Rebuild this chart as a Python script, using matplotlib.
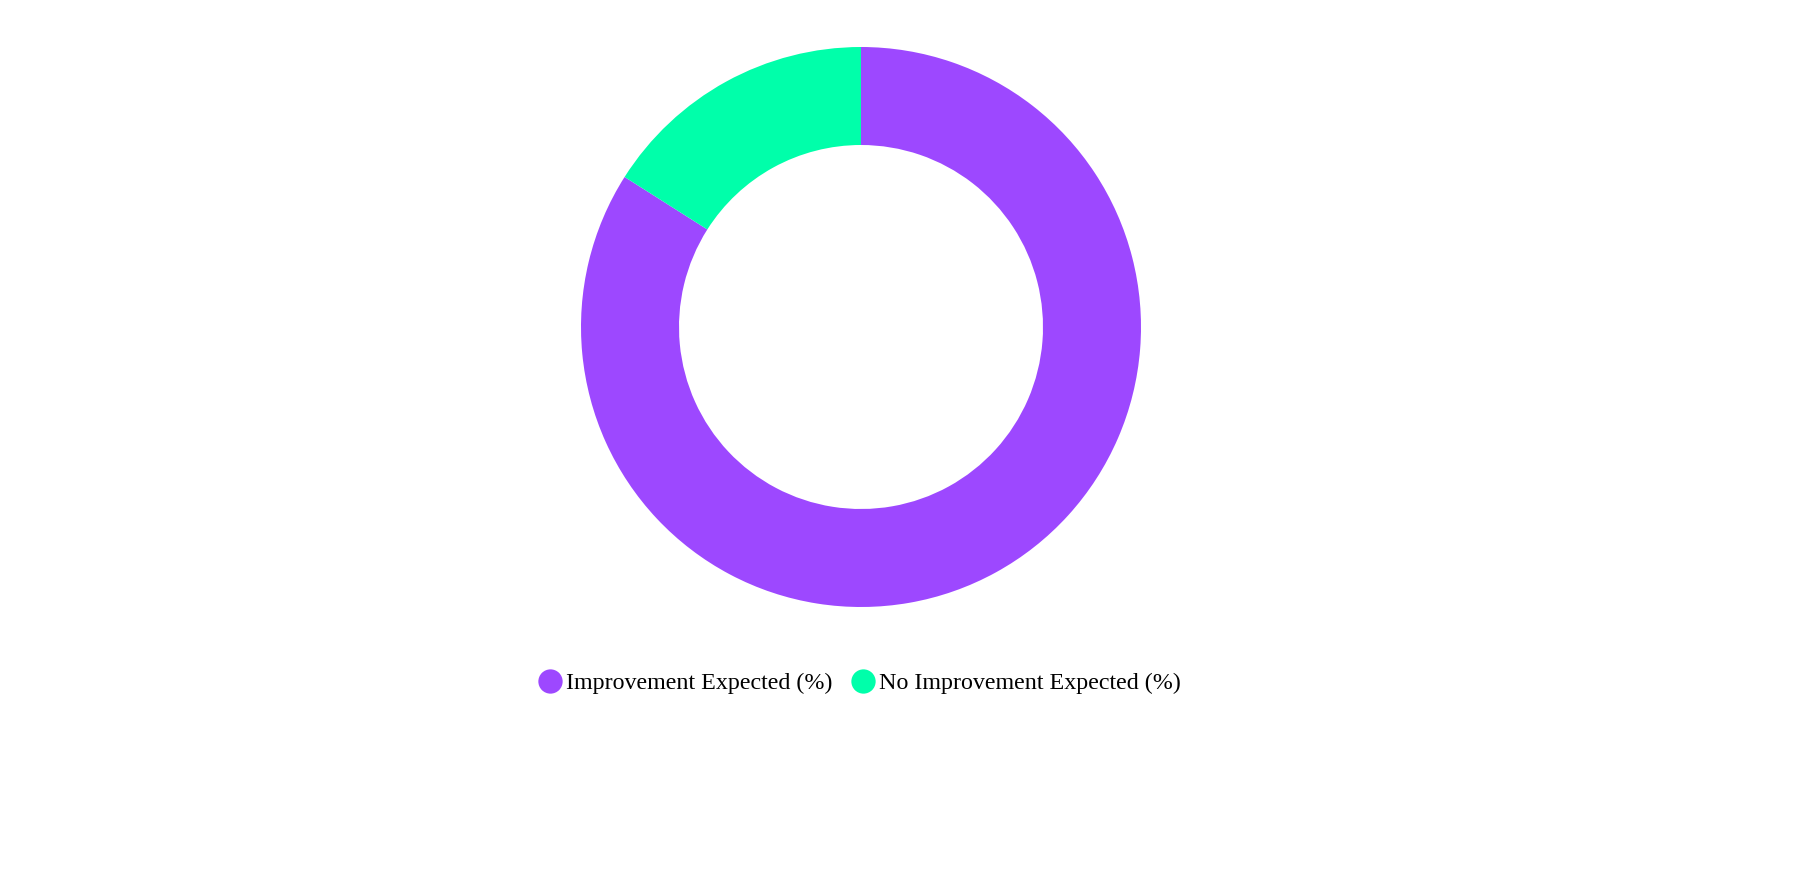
import matplotlib
matplotlib.use("Agg")
import matplotlib.pyplot as plt
from matplotlib.lines import Line2D

labels = ["Improvement Expected (%)", "No Improvement Expected (%)"]
values = [84, 16]
colors = ["#9d48ff", "#00ffaa"]

fig = plt.figure(figsize=(18, 8.8), dpi=100)
ax = fig.add_axes([0, 0, 1, 1])
ax.set_xlim(0, 1800)
ax.set_ylim(0, 880)
ax.axis("off")

# donut, centre in pixel coords (y measured from bottom)
ax.pie(values, colors=colors, startangle=90, counterclock=False,
       center=(861, 880 - 327), radius=280,
       wedgeprops=dict(width=280 * 0.35, linewidth=0))
ax.set_xlim(0, 1800)
ax.set_ylim(0, 880)
ax.set_aspect("equal")

handles = [Line2D([], [], marker="o", linestyle="", markersize=17.5,
                  markerfacecolor=c, markeredgewidth=0) for c in colors]
fig.legend(handles, labels, loc="center", bbox_to_anchor=(860 / 1800, 1 - 683 / 880),
           ncol=2, frameon=False, prop={"family": "Liberation Serif", "size": 17.3},
           handlelength=0.9, handletextpad=0.2, columnspacing=0.85, borderpad=0)

fig.savefig("out.png", dpi=100)
